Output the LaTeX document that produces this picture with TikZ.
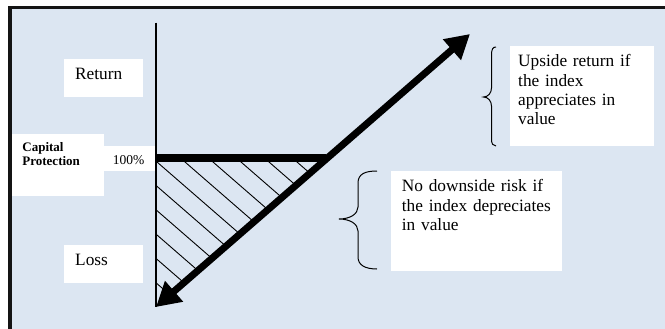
\documentclass[tikz,border=0pt]{standalone}
\usepackage{fontspec}
\setmainfont{Liberation Serif}
\usetikzlibrary{arrows.meta}
\definecolor{panel}{HTML}{DCE6F2}

\begin{document}
\begin{tikzpicture}[x=1pt,y=-1pt,
  font=\fontsize{17.3}{19.3}\selectfont,
  lbl/.style={fill=white,anchor=north west,inner ysep=0pt,align=left},
  pctfont/.style={font=\fontsize{13.5}{14}\selectfont},
  capfont/.style={font=\fontsize{13}{14}\selectfont\bfseries},
  bar/.style={line width=8pt},
  payoff/.style={line width=7pt,
    {Triangle[length=24pt,width=26pt]}-{Triangle[length=24pt,width=26pt]}},
  hatchline/.style={line width=0.9pt},
  curly/.style={line width=1pt}
]
\useasboundingbox (0,0) rectangle (665,329);
\fill[white] (0,0) rectangle (665,329);
\fill[panel] (10,7.7) rectangle (670,335);
\draw[line width=3.4pt,draw=black!92] (10,335) -- (10,7.7) -- (670,7.7);

% labels
\node[lbl,inner xsep=11.4pt,text width=56.6pt] (ret) at (63.6,59)
  {\rule{0pt}{20.3pt}Return\rule[-17.7pt]{0pt}{17.7pt}};
\node[lbl,inner xsep=11.4pt,text width=56.6pt] (loss) at (63.6,245)
  {\rule{0pt}{20.7pt}Loss\rule[-17.3pt]{0pt}{17.3pt}};
\node[lbl,capfont,inner xsep=10.5pt,text width=71.3pt] (cap) at (11.7,134)
  {\rule{0pt}{17.7pt}Capital\\Protection\rule[-30.3pt]{0pt}{30.3pt}};
\node[lbl,pctfont,inner xsep=8.7pt,text width=34.6pt] (pct) at (104,146)
  {\rule{0pt}{18pt}100\%\rule[-7pt]{0pt}{7pt}};
\node[lbl,inner xsep=8.7pt,text width=126.6pt] (up) at (509.3,46)
  {\rule{0pt}{20.7pt}Upside return if\\the index\\appreciates in\\value\rule[-21pt]{0pt}{21pt}};
\node[lbl,inner xsep=10.7pt,text width=149.3pt] (down) at (391,171)
  {\rule{0pt}{20.7pt}No downside risk if\\\mbox{the index depreciates}\\in value\rule[-40pt]{0pt}{40pt}};

% axis and payoff
\coordinate (top) at (156,22.7);
\coordinate (bot) at (156,307);
\coordinate (level) at (156,158.3);
\coordinate (knee) at (326,158.3);
\coordinate (tip) at (470,34);

\begin{scope}
  \clip (level) -- (knee) -- (bot) -- cycle;
  \foreach \i in {-9,...,7}
    \draw[hatchline] ({157+28*\i-226.5},{162-196.8}) -- ({157+28*\i+226.5},{162+196.8});
\end{scope}

\draw[line width=2pt] (top) -- (bot);
\draw[bar] (level) -- (knee);
\draw[payoff] (bot) -- (tip);

% braces
\draw[curly] (496,47) .. controls (493,47) and (491.5,49) .. (491.5,55)
  -- (491.5,88) .. controls (491.5,93) and (488,97) .. (483.5,97)
  .. controls (488,97) and (491.5,101) .. (491.5,106)
  -- (491.5,139) .. controls (491.5,144) and (493,146) .. (496,146);
\draw[curly] (377,171) .. controls (365,171) and (358,174) .. (358,183)
  -- (358,207) .. controls (358,214) and (350,219) .. (339,219)
  .. controls (350,219) and (358,224) .. (358,231)
  -- (358,257) .. controls (358,265) and (365,269) .. (377,269);
\end{tikzpicture}
\end{document}
